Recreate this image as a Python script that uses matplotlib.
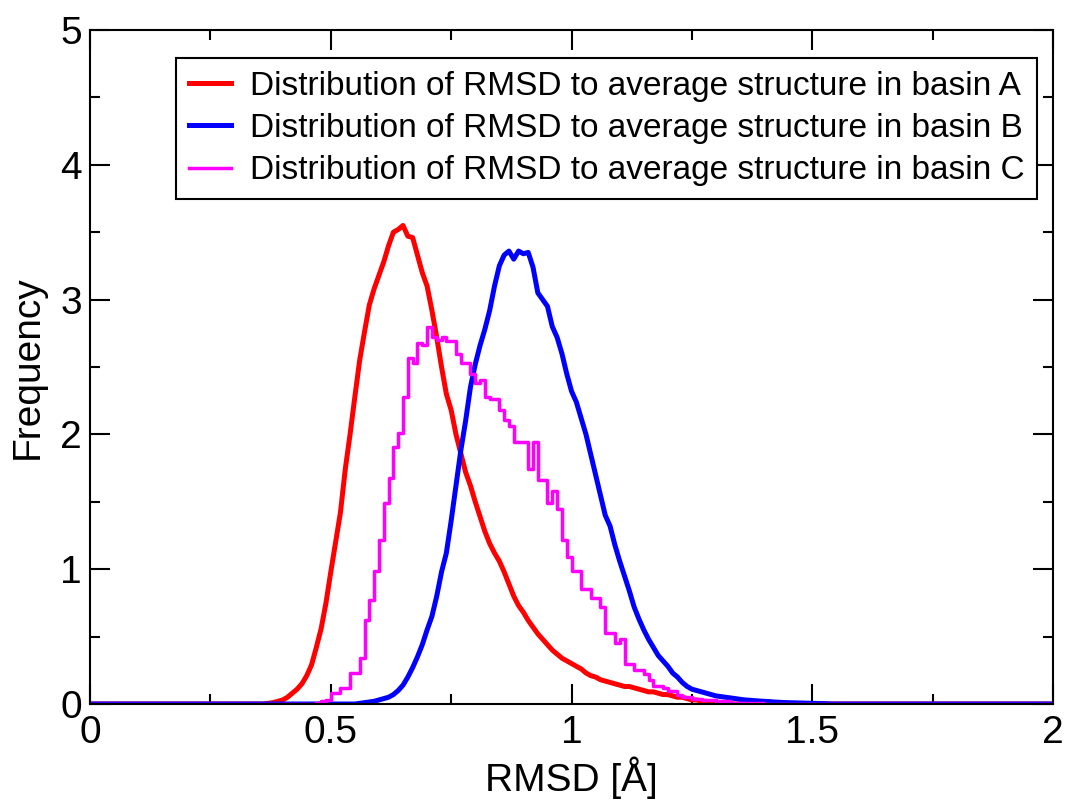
import matplotlib
matplotlib.use('Agg')
import matplotlib.pyplot as plt
import numpy as np
from matplotlib.ticker import MultipleLocator

plt.rcParams['font.family'] = ['Liberation Sans', 'DejaVu Sans']

# basin A (red), bin centres 0.35 .. 1.34 step 0.01
x_a_start = 0.35
freq_a = [0.0, 0.0, 0.005, 0.01, 0.02, 0.03, 0.05, 0.08, 0.11, 0.15,
          0.21, 0.29, 0.42, 0.56, 0.75, 0.98, 1.20, 1.42, 1.74, 2.00,
          2.28, 2.55, 2.76, 2.96, 3.08, 3.18, 3.28, 3.40, 3.50, 3.52,
          3.55, 3.47, 3.46, 3.33, 3.20, 3.10, 2.92, 2.72, 2.50, 2.30,
          2.18, 2.00, 1.86, 1.72, 1.62, 1.50, 1.39, 1.28, 1.19, 1.12,
          1.06, 0.98, 0.89, 0.80, 0.73, 0.68, 0.62, 0.57, 0.52, 0.48,
          0.44, 0.40, 0.37, 0.34, 0.32, 0.30, 0.28, 0.26, 0.23, 0.21,
          0.20, 0.18, 0.17, 0.16, 0.15, 0.14, 0.13, 0.13, 0.12, 0.11,
          0.10, 0.09, 0.09, 0.08, 0.07, 0.07, 0.06, 0.05, 0.05, 0.04,
          0.03, 0.03, 0.02, 0.02, 0.01, 0.01, 0.008, 0.005, 0.003, 0.0]

# basin B (blue), bin centres 0.55 .. 1.54 step 0.01
x_b_start = 0.55
freq_b = [0.0, 0.005, 0.01, 0.015, 0.02, 0.03, 0.04, 0.05, 0.07, 0.10,
          0.14, 0.20, 0.27, 0.35, 0.44, 0.55, 0.65, 0.80, 0.98, 1.12,
          1.36, 1.62, 1.88, 2.10, 2.35, 2.52, 2.66, 2.78, 2.92, 3.10,
          3.25, 3.33, 3.36, 3.30, 3.36, 3.34, 3.35, 3.24, 3.05, 3.00,
          2.95, 2.80, 2.72, 2.60, 2.45, 2.32, 2.24, 2.12, 2.00, 1.85,
          1.70, 1.55, 1.40, 1.32, 1.18, 1.06, 0.95, 0.84, 0.72, 0.63,
          0.55, 0.48, 0.42, 0.36, 0.32, 0.28, 0.23, 0.20, 0.16, 0.13,
          0.11, 0.10, 0.09, 0.08, 0.07, 0.06, 0.055, 0.05, 0.045, 0.04,
          0.035, 0.03, 0.028, 0.025, 0.022, 0.02, 0.018, 0.015, 0.013, 0.011,
          0.01, 0.009, 0.008, 0.007, 0.006, 0.005, 0.004, 0.003, 0.002, 0.0]

# basin C (magenta), bin left edges 0.47 .. 1.40 step 0.01
x_c_start = 0.47
freq_c = [0.01, 0.02, 0.03, 0.08, 0.08, 0.12, 0.12, 0.23, 0.23, 0.34,
          0.62, 0.77, 0.99, 1.22, 1.49, 1.68, 1.91, 2.01, 2.28, 2.57,
          2.53, 2.68, 2.66, 2.80, 2.72, 2.70, 2.72, 2.69, 2.69, 2.60,
          2.53, 2.53, 2.45, 2.38, 2.40, 2.28, 2.26, 2.26, 2.18, 2.11,
          2.06, 1.94, 1.94, 1.94, 1.74, 1.94, 1.66, 1.66, 1.49, 1.58,
          1.45, 1.22, 1.09, 0.99, 0.99, 0.85, 0.85, 0.79, 0.79, 0.72,
          0.53, 0.53, 0.45, 0.48, 0.30, 0.30, 0.25, 0.25, 0.22, 0.18,
          0.13, 0.13, 0.12, 0.10, 0.10, 0.07, 0.05, 0.05, 0.04, 0.04,
          0.03, 0.03, 0.03, 0.02, 0.02, 0.02, 0.01, 0.01, 0.01, 0.01,
          0.005, 0.005, 0.005, 0.0]

labels = ['Distribution of RMSD to average structure in basin A',
          'Distribution of RMSD to average structure in basin B',
          'Distribution of RMSD to average structure in basin C']
colors = ['#ff0000', '#0000ff', '#ff00ff']


def full_range(x0, vals):
    # pad the histogram with zeros out to the 0..2 axis range
    x = x0 + 0.01 * np.arange(len(vals))
    return np.concatenate(([0.0], x, [2.0])), np.concatenate(([0.0], vals, [0.0]))


fig = plt.figure(figsize=(10.67, 8.02), dpi=100)
ax = fig.add_axes([0.0844, 0.1222, 0.9025, 0.8404])

xa, ya = full_range(x_a_start, freq_a)
xb, yb = full_range(x_b_start, freq_b)
xc, yc = full_range(x_c_start, freq_c)
ax.plot(xa, ya, color=colors[0], lw=3.6, label=labels[0])
ax.plot(xb, yb, color=colors[1], lw=3.6, label=labels[1])
ax.step(xc, yc, where='post', color=colors[2], lw=2.5, label=labels[2])

ax.set_xlim(0, 2)
ax.set_ylim(0, 5)
ax.xaxis.set_minor_locator(MultipleLocator(0.25))
ax.yaxis.set_minor_locator(MultipleLocator(0.5))
ax.set_xticks([0, 0.5, 1, 1.5, 2])
ax.set_xticklabels(['0', '0.5', '1', '1.5', '2'])
ax.set_yticks([0, 1, 2, 3, 4, 5])
ax.set_yticklabels(['0', '1', '2', '3', '4', '5'])
ax.tick_params(which='both', direction='in', top=True, right=True,
               width=1.5, labelsize=28, color='black')
ax.tick_params(which='major', length=14.4)
ax.tick_params(which='minor', length=7.2)
ax.tick_params(axis='x', pad=8)
ax.tick_params(axis='y', pad=6)
for s in ax.spines.values():
    s.set_linewidth(1.5)

ax.set_xlabel('RMSD [Å]', fontsize=28, labelpad=4)
ax.set_ylabel('Frequency', fontsize=28, labelpad=10)

leg = ax.legend(loc='upper right', bbox_to_anchor=(0.9834, 0.9585),
                borderaxespad=0, fontsize=24, fancybox=False,
                edgecolor='black', framealpha=1, handlelength=1.26,
                handletextpad=0.57, labelspacing=0.34, borderpad=0.38)
leg.get_frame().set_linewidth(1.5)

fig.savefig('out.png', dpi=100)
